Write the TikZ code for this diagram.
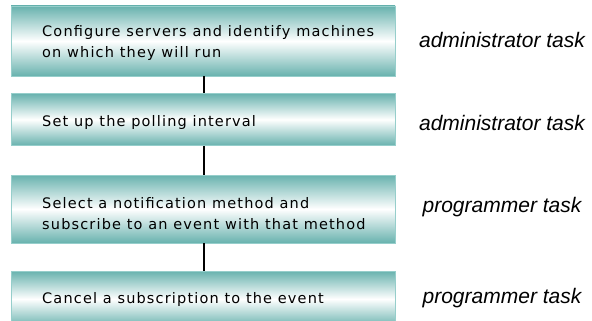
\documentclass[tikz,border=0pt]{standalone}
\usepackage{fontspec}
\setmainfont{DejaVu Sans}[LetterSpace=8]
\newfontfamily\labelfont{Liberation Sans}
\definecolor{tealedge}{RGB}{104,178,174}
\definecolor{tealline}{RGB}{150,206,203}
\begin{document}
\begin{tikzpicture}[x=1pt,y=-1pt,
  stepbox/.style={rectangle,draw=tealline,line width=0.8pt,minimum width=384pt,
    top color=tealedge,bottom color=tealedge,middle color=white,inner sep=0pt},
  steptext/.style={anchor=west,align=left,inner sep=0pt,
    font=\fontsize{14.5}{21}\selectfont},
  tasktext/.style={font=\labelfont\itshape\fontsize{21}{24}\selectfont,inner sep=0pt},
  link/.style={draw=black,line width=1.3pt}]
\useasboundingbox (0,0) rectangle (592,321);
\node[stepbox,minimum height=70pt] (b1) at (203,41) {};
\node[stepbox,minimum height=52pt] (b2) at (203,119.5) {};
\node[stepbox,minimum height=68pt] (b3) at (203,209) {};
\node[stepbox,minimum height=56pt] (b4) at (203,299) {};
\node[steptext] (t1) at (42,43) {Configure servers and identify machines\\on which they will run};
\node[steptext] (t2) at (42,122) {Set up the polling interval};
\node[steptext] (t3) at (42,214) {Select a notification method and\\subscribe to an event with that method};
\node[steptext] (t4) at (42,299) {Cancel a subscription to the event};
\node[tasktext] (l1) at (502,40) {administrator task};
\node[tasktext] (l2) at (502,123) {administrator task};
\node[tasktext] (l3) at (502,207) {programmer task};
\node[tasktext] (l4) at (502,298) {programmer task};
\draw[link] ([xshift=1pt]b1.south) -- ([xshift=1pt]b2.north);
\draw[link] ([xshift=1pt]b2.south) -- ([xshift=1pt]b3.north);
\draw[link] ([xshift=1pt]b3.south) -- ([xshift=1pt]b4.north);
\end{tikzpicture}
\end{document}
